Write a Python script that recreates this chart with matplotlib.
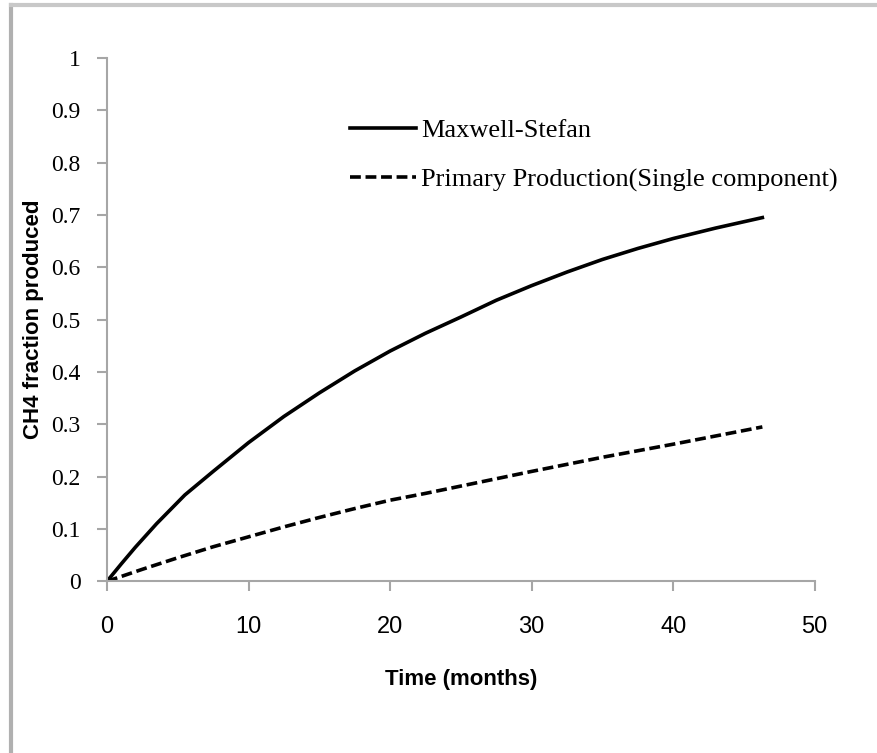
import numpy as np
import matplotlib
matplotlib.use("Agg")
import matplotlib.pyplot as plt
from matplotlib.lines import Line2D

# values
time_ms = [0, 1, 2, 3.5, 5.5, 7.5, 10, 12.5, 15, 17.5, 20, 22.5, 25, 27.5,
           30, 32.5, 35, 37.5, 40, 43, 46.3]
frac_ms = [0, 0.033, 0.065, 0.11, 0.165, 0.21, 0.265, 0.315, 0.36, 0.402,
           0.44, 0.474, 0.505, 0.537, 0.565, 0.591, 0.615, 0.636, 0.655,
           0.675, 0.695]

time_pp = [0, 2.5, 5, 7.5, 10, 12.5, 15, 17.5, 20, 22.5, 25, 30, 35, 40, 46.3]
frac_pp = [0, 0.023, 0.045, 0.066, 0.085, 0.104, 0.122, 0.139, 0.155, 0.168,
           0.182, 0.21, 0.237, 0.262, 0.295]

x_ticks = [0, 10, 20, 30, 40, 50]
y_ticks = [0, 0.1, 0.2, 0.3, 0.4, 0.5, 0.6, 0.7, 0.8, 0.9, 1]
y_tick_labels = ["0", "0.1", "0.2", "0.3", "0.4", "0.5", "0.6", "0.7", "0.8", "0.9", "1"]

serif = ["Liberation Serif", "DejaVu Serif"]
sans = ["Liberation Sans Narrow", "Liberation Sans", "DejaVu Sans"]
grey = "#a6a6a6"
dash = (0, (3.0, 1.3))

fig = plt.figure(figsize=(8.77, 7.53), dpi=100)
ax = fig.add_axes([0.122, 0.228, 0.807, 0.695])

ax.plot(time_ms, frac_ms, color="black", lw=2.6, label="Maxwell-Stefan")
ax.plot(time_pp, frac_pp, color="black", lw=2.6, ls=dash,
        label="Primary Production(Single component)")

ax.set_xlim(0, 50)
ax.set_ylim(0, 1)
ax.set_xticks(x_ticks)
ax.set_yticks(y_ticks)
ax.set_yticklabels(y_tick_labels, family=serif, fontsize=17)
ax.set_xticklabels([str(t) for t in x_ticks], family=sans, fontsize=17)

for s in ["top", "right"]:
    ax.spines[s].set_visible(False)
for s in ["left", "bottom"]:
    ax.spines[s].set_color(grey)
    ax.spines[s].set_linewidth(1.5)
ax.tick_params(axis="both", direction="out", color=grey, width=1.5, length=7)
ax.tick_params(axis="x", pad=18)
ax.tick_params(axis="y", pad=12)

ax.set_xlabel("Time (months)", family=sans, fontsize=16, fontweight="bold", labelpad=22)
ax.set_ylabel("CH4 fraction produced", family=sans, fontsize=16, fontweight="bold")
ax.yaxis.set_label_coords(-0.089, 0.5)

handles = [Line2D([], [], color="black", lw=2.6),
           Line2D([], [], color="black", lw=2.6, ls=dash)]
ax.legend(handles, ["Maxwell-Stefan", "Primary Production(Single component)"],
          loc="upper left", bbox_to_anchor=(0.31, 0.93), frameon=False,
          prop={"family": serif, "size": 19}, handlelength=2.5,
          handletextpad=0.2, labelspacing=1.0)

# grey frame on left and top of the picture
fig.add_artist(Line2D([0.012, 0.012], [0.0, 0.993], color="#b0b0b0", lw=3))
fig.add_artist(Line2D([0.012, 1.0], [0.993, 0.993], color="#c8c8c8", lw=3))

fig.savefig("out.png", dpi=100)
